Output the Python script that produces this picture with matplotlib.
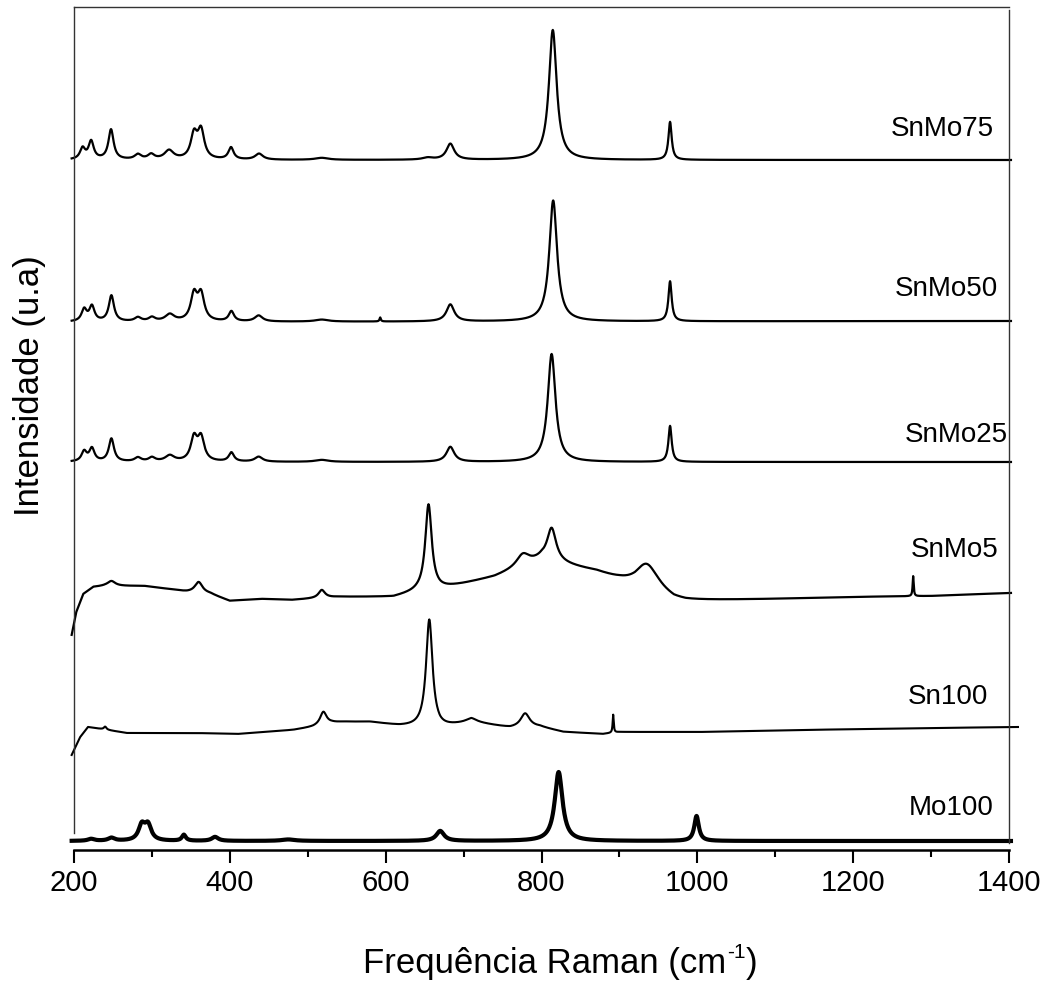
import numpy as np
import matplotlib
matplotlib.use("Agg")
import matplotlib.pyplot as plt

# ============================================================
# DATA  (peaks: centre cm-1, height, half width)
# ============================================================

names = ["Mo100", "Sn100", "SnMo5", "SnMo25", "SnMo50", "SnMo75"]

# vertical offset of each trace (arbitrary units)
offsets = [9, 117, 253, 388, 528, 690]

# --- Mo100 ---
mo100_base_x = [197, 1402]
mo100_base_y = [0, 0]
mo100_c = [222, 248, 287, 295, 341, 381, 475, 670, 822, 999]
mo100_h = [2, 3, 15, 15, 6, 4, 1.5, 10, 69, 25]
mo100_w = [5, 5, 5, 5, 3, 5, 10, 6, 6, 3.5]

# --- Sn100 ---
sn100_base_x = [197, 203, 208, 218, 235, 268, 353, 410, 481, 507, 531, 546,
                580, 618, 640, 670, 683, 710, 760, 798, 828, 879, 900, 1003,
                1132, 1303, 1412]
sn100_base_y = [-22, -12, -4, 6, 4, 0, 0, -1, 3, 6, 10, 11,
                11, 7, 6, 5, 7, 11, 5, 6, 1, -1, 1, 1,
                3, 5, 6]
sn100_c = [240, 520, 656, 710, 779, 892]
sn100_h = [3, 13, 108, 3, 14, 18]
sn100_w = [2, 5, 5, 8, 7, 0.8]

# --- SnMo5 ---
snmo5_base_x = [197, 203, 212, 225, 240, 260, 290, 320, 345, 375, 400, 440,
                480, 540, 610, 640, 670, 700, 740, 765, 790, 800, 830, 870,
                900, 920, 950, 970, 985, 1100, 1200, 1300, 1400]
snmo5_base_y = [-38, -15, 3, 10, 11, 11, 11, 8, 5, 3, -4, -2,
                -3, 0, 0, 5, 8, 13, 20, 27, 34, 37, 32, 25,
                16, 9, 3, -3, -4, -2, 0, 1, 4]
snmo5_c = [248, 360, 518, 655, 776, 813, 935, 1277]
snmo5_h = [5, 11, 8, 86, 12, 33, 27, 20]
snmo5_w = [6, 6, 5, 5, 10, 7, 18, 0.8]

# --- SnMo25 ---
snmo25_base_x = [197, 1402]
snmo25_base_y = [0, 0]
snmo25_c = [213, 223, 248, 282, 300, 323, 354, 363, 402, 437, 518, 683, 813, 965]
snmo25_h = [10, 13, 23, 4, 4, 6, 23, 23, 9, 5, 2, 15, 108, 36]
snmo25_w = [4, 4, 4, 5, 5, 7, 5, 5, 4, 6, 10, 6, 6, 2.5]

# --- SnMo50 ---
snmo50_base_x = [197, 1402]
snmo50_base_y = [0, 1]
snmo50_c = [213, 223, 248, 282, 300, 323, 354, 363, 402, 437, 518, 593, 683, 815, 965]
snmo50_h = [12, 15, 26, 4, 4, 7, 26, 26, 10, 6, 2, 4, 17, 121, 40]
snmo50_w = [4, 4, 4, 5, 5, 7, 5, 5, 4, 6, 10, 1, 6, 6, 2.5]

# --- SnMo75 ---
snmo75_base_x = [197, 1402]
snmo75_base_y = [0, 0]
snmo75_c = [211, 222, 247.5, 282, 299, 322, 354, 363, 401.5, 437.5, 518, 654, 683, 814.5, 965]
snmo75_h = [11, 18, 30, 5, 5, 9, 24, 28, 12, 6, 2, 2, 16, 130, 38]
snmo75_w = [4, 4, 4, 5, 5, 7, 5, 5, 4, 6, 10, 8, 6, 6, 2.5]

# ============================================================
# BUILD TRACES
# ============================================================

def lorentz(x, c, h, w):

    return h * w ** 2 / ((x - c) ** 2 + w ** 2)


def build(x, base_x, base_y, centers, heights, widths):

    y = np.interp(x, base_x, base_y)

    for c, h, w in zip(centers, heights, widths):
        y = y + lorentz(x, c, h, w)

    return y


x = np.arange(197, 1403, 0.5)
x_sn = np.arange(197, 1412, 0.5)

traces = [
    (x, build(x, mo100_base_x, mo100_base_y, mo100_c, mo100_h, mo100_w)),
    (x_sn, build(x_sn, sn100_base_x, sn100_base_y, sn100_c, sn100_h, sn100_w)),
    (x, build(x, snmo5_base_x, snmo5_base_y, snmo5_c, snmo5_h, snmo5_w)),
    (x, build(x, snmo25_base_x, snmo25_base_y, snmo25_c, snmo25_h, snmo25_w)),
    (x, build(x, snmo50_base_x, snmo50_base_y, snmo50_c, snmo50_h, snmo50_w)),
    (x, build(x, snmo75_base_x, snmo75_base_y, snmo75_c, snmo75_h, snmo75_w)),
]

line_widths = [3.0, 1.5, 1.6, 1.6, 1.6, 1.6]

# label anchors (right edge, vertical centre)
label_x = [1380, 1373, 1386, 1398, 1386, 1380]
label_y = [42, 153, 300, 415, 561, 721]

# ============================================================
# PLOT
# ============================================================

plt.rcParams["font.family"] = ["Liberation Sans", "DejaVu Sans"]

W, H = 1050, 982

fig = plt.figure(figsize=(W / 100, H / 100), dpi=100)

ax = fig.add_axes([74 / W, 1 - 850 / H, 935 / W, 843.5 / H])

for (xs, ys), off, lw in zip(traces, offsets, line_widths):

    ax.plot(xs, ys + off, color="black", lw=lw, clip_on=False,
            solid_joinstyle="round")

for name, lx, ly in zip(names, label_x, label_y):

    ax.text(lx, ly, name, ha="right", va="center", fontsize=20)

ax.set_xlim(200, 1400)
ax.set_ylim(0, 843.5)

ax.set_xticks(np.arange(200, 1401, 200))
ax.set_xticks(np.arange(300, 1400, 200), minor=True)
ax.set_yticks([])

ax.tick_params(axis="x", which="major", direction="out", length=9.5,
               width=1.5, labelsize=21, pad=4)
ax.tick_params(axis="x", which="minor", direction="out", length=5,
               width=1.5)

for side in ["left", "right", "top"]:
    ax.spines[side].set_color("#333333")
    ax.spines[side].set_linewidth(1.0)

ax.spines["left"].set_bounds(17, 843.5)
ax.spines["right"].set_bounds(7, 840)
ax.spines["bottom"].set_linewidth(1.8)

# ============================================================
# AXIS LABELS  (superscript built from pieces to keep a plain hyphen)
# ============================================================

renderer = fig.canvas.get_renderer()

base_py = 973

t1 = fig.text(363 / W, 1 - base_py / H, "Frequência Raman (cm",
              ha="left", va="baseline", fontsize=25)

x1 = t1.get_window_extent(renderer).x1

t2 = fig.text(x1 / W + 1 / W, 1 - (base_py - 15) / H, "-1",
              ha="left", va="baseline", fontsize=15)

x2 = t2.get_window_extent(renderer).x1

fig.text(x2 / W, 1 - base_py / H, ")",
         ha="left", va="baseline", fontsize=25)

fig.text(30 / W, 1 - 386 / H, "Intensidade (u.a)",
         ha="center", va="center", rotation=90, fontsize=25)

fig.savefig("out.png", dpi=100)
